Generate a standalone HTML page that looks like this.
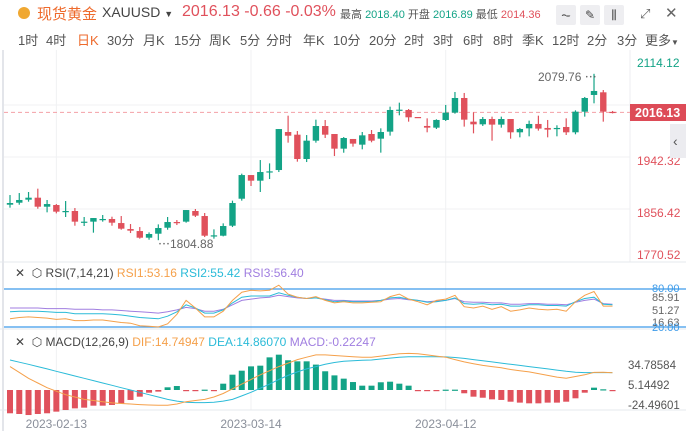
<!DOCTYPE html>
<html><head><meta charset="utf-8">
<style>
body{margin:0;width:686px;height:431px;overflow:hidden;background:#fff;font-family:"Liberation Sans","Noto Sans CJK SC",sans-serif;position:relative}
.a{position:absolute;white-space:nowrap}
.tab{position:absolute;top:30px;font-size:13px;color:#555}
.btn{position:absolute;top:5px;width:20px;height:20px;background:#eeeef1;border-radius:2px;color:#444;font-size:12px;text-align:center;line-height:20px}
</style></head><body>
<div class="a" style="left:18px;top:7px;width:12px;height:12px;border-radius:50%;background:#f0a832"></div>
<div class="a" style="left:37px;top:3px;font-size:15px;color:#ee6a2c">现货黄金</div>
<div class="a" style="left:102px;top:4px;font-size:14px;color:#444">XAUUSD <span style="font-size:9px">▼</span></div>
<div class="a" style="left:182px;top:3px;font-size:16px;color:#e0515c">2016.13 -0.66 -0.03%</div>
<div class="a" style="left:340px;top:6px;font-size:11px;color:#555">最高 <span style="color:#13a386">2018.40</span> 开盘 <span style="color:#13a386">2016.89</span> 最低 <span style="color:#e0515c">2014.36</span></div>
<div class="btn" style="left:556px">⏦</div>
<div class="btn" style="left:580px">✎</div>
<div class="btn" style="left:604px">⫼</div>
<div class="a" style="left:640px;top:6px;font-size:13px;color:#666">⤢</div>
<div class="a" style="left:665px;top:4px;font-size:15px;color:#666">✕</div>
<div class="tab" style="left:18px">1时</div>
<div class="tab" style="left:46px">4时</div>
<div class="tab" style="left:77px;color:#ee6a2c">日K</div>
<div class="tab" style="left:107px">30分</div>
<div class="tab" style="left:143px">月K</div>
<div class="tab" style="left:174px">15分</div>
<div class="tab" style="left:209px">周K</div>
<div class="tab" style="left:240px">5分</div>
<div class="tab" style="left:266px">分时</div>
<div class="tab" style="left:303px">年K</div>
<div class="tab" style="left:333px">10分</div>
<div class="tab" style="left:369px">20分</div>
<div class="tab" style="left:404px">2时</div>
<div class="tab" style="left:433px">3时</div>
<div class="tab" style="left:463px">6时</div>
<div class="tab" style="left:493px">8时</div>
<div class="tab" style="left:522px">季K</div>
<div class="tab" style="left:552px">12时</div>
<div class="tab" style="left:587px">2分</div>
<div class="tab" style="left:617px">3分</div>
<div class="tab" style="left:645px">更多<span style="font-size:8px">▼</span></div>

<svg id="c" width="686" height="431" style="position:absolute;left:0;top:0" font-family="Liberation Sans, Noto Sans CJK SC, sans-serif"></svg>
<script>
const opens=[1863.5,1866.8,1871.8,1875.1,1860.2,1863.0,1852.0,1853.1,1834.3,1835.5,1838.8,1839.9,1833.2,1823.3,1820.0,1809.0,1815.6,1825.5,1834.9,1835.5,1853.1,1844.8,1811.2,1812.3,1828.8,1873.4,1912.5,1903.2,1917.0,1920.8,1983.6,1979.2,1939.0,1969.3,1993.5,1980.3,1956.1,1972.1,1962.7,1980.3,1972.6,1984.2,2019.4,2020.0,2008.4,1993.6,1990.8,2003.5,2015.6,2039.8,2000.7,1996.3,2005.1,1995.8,2005.1,1983.1,1989.7,1996.9,1990.3,1989.2,1991.9,1983.1,2017.2,2044.8,2049.2,2016.89];
const closes=[1866.3,1871.3,1875.1,1860.2,1864.6,1852.0,1853.1,1835.5,1835.5,1841.5,1839.9,1833.8,1823.9,1820.6,1809.0,1815.1,1825.0,1834.9,1833.8,1854.7,1845.4,1812.3,1812.9,1828.3,1866.3,1912.5,1903.2,1917.5,1918.6,1988.5,1977.5,1939.0,1969.3,1993.5,1979.2,1956.1,1973.7,1964.4,1978.1,1969.3,1983.6,2020.0,2020.5,2007.9,2007.3,1990.8,2003.5,2015.6,2039.8,2004.0,1996.3,2005.1,1995.8,2005.1,1983.1,1988.6,1996.9,1989.2,1987.5,1990.3,1983.1,2017.2,2039.8,2051.4,2017.2,2016.13];
const highs=[1879.5,1882.8,1884.5,1890.0,1871.3,1864.6,1869.6,1858.0,1843.2,1841.5,1846.5,1843.7,1844.8,1831.6,1826.6,1817.8,1831.0,1843.2,1838.2,1854.7,1856.4,1849.8,1822.8,1832.7,1870.2,1914.8,1912.5,1937.3,1931.8,1988.5,2010.6,1985.2,1978.6,2004.0,2003.4,1980.3,1975.3,1972.1,1983.6,1986.9,1989.7,2025.5,2032.1,2021.6,2008.4,2006.2,2004.6,2028.3,2049.7,2048.1,2016.1,2008.4,2009.0,2009.0,2005.1,1990.3,2002.4,2010.6,2003.5,1994.7,2006.2,2019.4,2041.5,2079.76,2053.0,2018.4];
const lows=[1858.6,1863.5,1868.5,1856.9,1850.9,1849.2,1843.2,1828.8,1828.3,1817.3,1835.5,1828.8,1822.2,1816.7,1807.4,1805.7,1804.88,1822.2,1829.9,1833.8,1843.2,1810.1,1807.4,1811.2,1826.6,1870.2,1894.4,1884.5,1905.9,1917.5,1966.0,1934.6,1934.0,1966.0,1973.7,1943.9,1949.4,1959.4,1955.0,1966.6,1949.5,1977.6,2011.2,2000.7,2007.3,1983.1,1988.6,2001.8,2013.9,1992.5,1981.4,1993.6,1969.3,1990.8,1972.6,1974.8,1976.5,1985.9,1974.8,1976.5,1978.7,1979.8,2009.0,2031.0,2000.7,2014.36];
const rsi1=[33,35,36,35,34,32,33,30,30,31,31,29,27,26,22,21,20,25,40,62,50,36,36,45,62,75,78,77,78,86,72,67,65,68,62,58,60,58,58,59,60,68,72,64,60,55,62,64,70,52,50,53,48,52,45,47,50,48,47,48,45,60,70,76,53,53];
const rsi2=[44,45,45,45,44,43,43,41,41,41,41,40,39,37,35,34,33,37,44,55,50,42,42,47,58,67,69,69,69,74,70,67,65,66,63,60,61,60,60,60,62,66,67,64,62,59,60,62,66,57,56,57,55,56,53,53,55,55,54,54,53,60,65,67,56,55];
const rsi3=[50,50,50,50,49,49,49,48,48,48,47,47,46,45,44,43,42,44,47,51,49,45,45,48,55,62,64,66,67,70,68,66,65,66,64,62,62,61,61,61,62,64,65,63,62,60,61,62,65,60,59,59,58,58,56,56,57,57,56,56,55,59,62,64,57,56];
const dif=[20,15,10,6,2,-1,-4,-6,-8,-9,-10,-11,-11.5,-12,-12.5,-12.8,-13,-13,-12,-10,-9,-8,-6,-3,1,5,9,13,16.5,20,23,26,28,30,30,29.5,29,28.5,28,28,29,30,31,31.3,31,30,29,28,26,24,22.5,21,20,19,17.5,16.5,15.5,14,12.5,11,10,11.5,13,15,15.2,14.75];
const dea=[25.6,23.8,22,20,18,16,14,12,10,8,6,4,2,0,-2,-4,-6,-8,-9.5,-10.5,-10.8,-10.8,-10.5,-9.5,-8,-5,-2,1.5,5,9,12.5,15.5,18,20,22,23.5,24.5,25,25.5,25.6,26.5,27.3,28,28.4,28.5,28.5,28.5,28.3,27.8,27,26,25,24,23,22,21,20,19,18,17,16,15.2,14.9,14.9,14.9,14.86];
const hist=[-19.9,-20.5,-21.4,-20.5,-19.9,-18.5,-17.1,-15.7,-15.1,-13.4,-13.4,-12.8,-11.4,-8.5,-5.7,-2.3,-1.4,2.3,3.4,-0.6,-0.6,0.3,-0.6,5.4,13.1,16.5,20.2,20.8,27.9,30.2,25.4,24.5,24.5,21.7,16.0,12.5,9.7,6.8,3.7,3.7,6.6,7.1,5.4,3.7,-0.9,-0.9,-0.9,0.3,0.3,-2.8,-5.7,-6.6,-8.0,-8.5,-10.0,-10.8,-11.4,-11.4,-10.8,-10.8,-10.0,-7.1,-2.3,2.0,0.6,-0.22];
const priceTicks=["2114.12","1942.32","1856.42","1770.52"];
const dateLabels=["2023-02-13","2023-03-14","2023-04-12"];
const dateIdx=[5,26,47];

const NS="http://www.w3.org/2000/svg",svg=document.getElementById('c');
const GREEN="#13a386",RED="#e0515c";
function mk(t,a,parent){const e=document.createElementNS(NS,t);for(const k in a)e.setAttribute(k,a[k]);(parent||svg).appendChild(e);return e;}
const xS=i=>10+i*9.27;
const yP=p=>157-(p-1942.32)*0.6053;
const yR=v=>289+(80-v)*0.633;
const yM=v=>390-v*1.17;

// frame/grid
let e;
e=mk('line',{x1:3,y1:50,x2:3,y2:431,stroke:'#e3e5ea','stroke-width':2});


[105,157,209].forEach(y=>{e=mk('line',{x1:4,y1:y,x2:630,y2:y,stroke:'#f0f1f3'});

});
dateIdx.forEach(i=>{e=mk('line',{x1:xS(i),y1:50,x2:xS(i),y2:410,stroke:'#f0f1f3'});

});
e=mk('line',{x1:630,y1:50,x2:630,y2:262,stroke:'#eceef1'});


[262,329,410].forEach(y=>{e=mk('line',{x1:0,y1:y,x2:686,y2:y,stroke:'#e6e8ec'});

});

// current price line
e=mk('line',{x1:4,y1:yP(2016.13),x2:630,y2:yP(2016.13),stroke:'#f4a0a6','stroke-dasharray':'4,3'});



// candles
opens.forEach((o,i)=>{const c=closes[i],col=c>=o?GREEN:RED,x=xS(i);
const g=mk('g',{});


mk('line',{x1:x,y1:yP(highs[i]),x2:x,y2:yP(lows[i]),stroke:col,'stroke-width':1.2},g);
const t=Math.min(yP(o),yP(c)),h=Math.max(1.2,Math.abs(yP(o)-yP(c)));
mk('rect',{x:x-3.2,y:t,width:6.4,height:h,fill:col},g);});

// price labels
priceTicks.forEach((t,k)=>{const ys=[63,161,213,255];
e=mk('text',{x:637,y:ys[k]+4,'font-size':12,fill:k==0?GREEN:RED});e.textContent=t;

});
e=mk('text',{x:637,y:116,'font-size':12,fill:GREEN});e.textContent="2028.22";


e=mk('rect',{x:630,y:104,width:56,height:17,fill:'#dd4b57'});


e=mk('text',{x:635,y:117,'font-size':12.5,fill:'#fff','font-weight':'bold'});e.textContent="2016.13";


e=mk('rect',{x:670,y:124,width:16,height:34,fill:'#ececf0'});


e=mk('text',{x:673,y:146,'font-size':14,fill:'#555'});e.textContent="‹";


e=mk('text',{x:538,y:81,'font-size':12,fill:'#666'});e.textContent="2079.76 ⋯";


e=mk('text',{x:158,y:248,'font-size':12,fill:'#666'});e.textContent="⋯1804.88";



// RSI pane
[80,20].forEach(v=>{e=mk('line',{x1:4,y1:yR(v),x2:686,y2:yR(v),stroke:'#3d9be9','stroke-width':1.2});

});
function poly(arr,yf,col,name){const p=arr.map((v,i)=>xS(i).toFixed(1)+','+yf(v).toFixed(1)).join(' ');
const l=mk('polyline',{points:p,fill:'none',stroke:col,'stroke-width':1});

}
poly(rsi3,yR,'#a07ee0','rsi3-line');
poly(rsi2,yR,'#2bbbd8','rsi2-line');
poly(rsi1,yR,'#f5a04a','rsi1-line');
[["80.00",292,'#3d9be9'],["85.91",301,'#666'],["51.27",314,'#666'],["16.63",326,'#666'],["20.00",331,'#3d9be9']].forEach(a=>{
e=mk('text',{x:652,y:a[1],'font-size':11,fill:a[2]});e.textContent=a[0];

});

// MACD pane
hist.forEach((v,i)=>{const y0=yM(0),y1=yM(v);
e=mk('rect',{x:xS(i)-3,y:Math.min(y0,y1),width:6,height:Math.max(1.2,Math.abs(y1-y0)),fill:v>=0?GREEN:RED});

});
poly(dea,yM,'#2bbbd8','dea-line');
poly(dif,yM,'#f5a04a','dif-line');
[["34.78584",369],["5.14492",389],["-24.49601",409]].forEach(a=>{
e=mk('text',{x:628,y:a[1],'font-size':11.5,fill:'#555'});e.textContent=a[0];

});

// dates
dateLabels.forEach((t,k)=>{e=mk('text',{x:xS(dateIdx[k]),y:428,'font-size':12,fill:'#8a8f9a','text-anchor':'middle'});e.textContent=t;

});
</script>
<div class="a" style="left:15px;top:266px;font-size:12px;color:#444">✕ &nbsp;⬡ RSI(7,14,21) <span style="color:#f5a04a">RSI1:53.16</span> <span style="color:#2bbbd8">RSI2:55.42</span> <span style="color:#a07ee0">RSI3:56.40</span></div>
<div class="a" style="left:15px;top:335px;font-size:12px;color:#444">✕ &nbsp;⬡ MACD(12,26,9) <span style="color:#f5a04a">DIF:14.74947</span> <span style="color:#2bbbd8">DEA:14.86070</span> <span style="color:#a07ee0">MACD:-0.22247</span></div>
</body></html>
